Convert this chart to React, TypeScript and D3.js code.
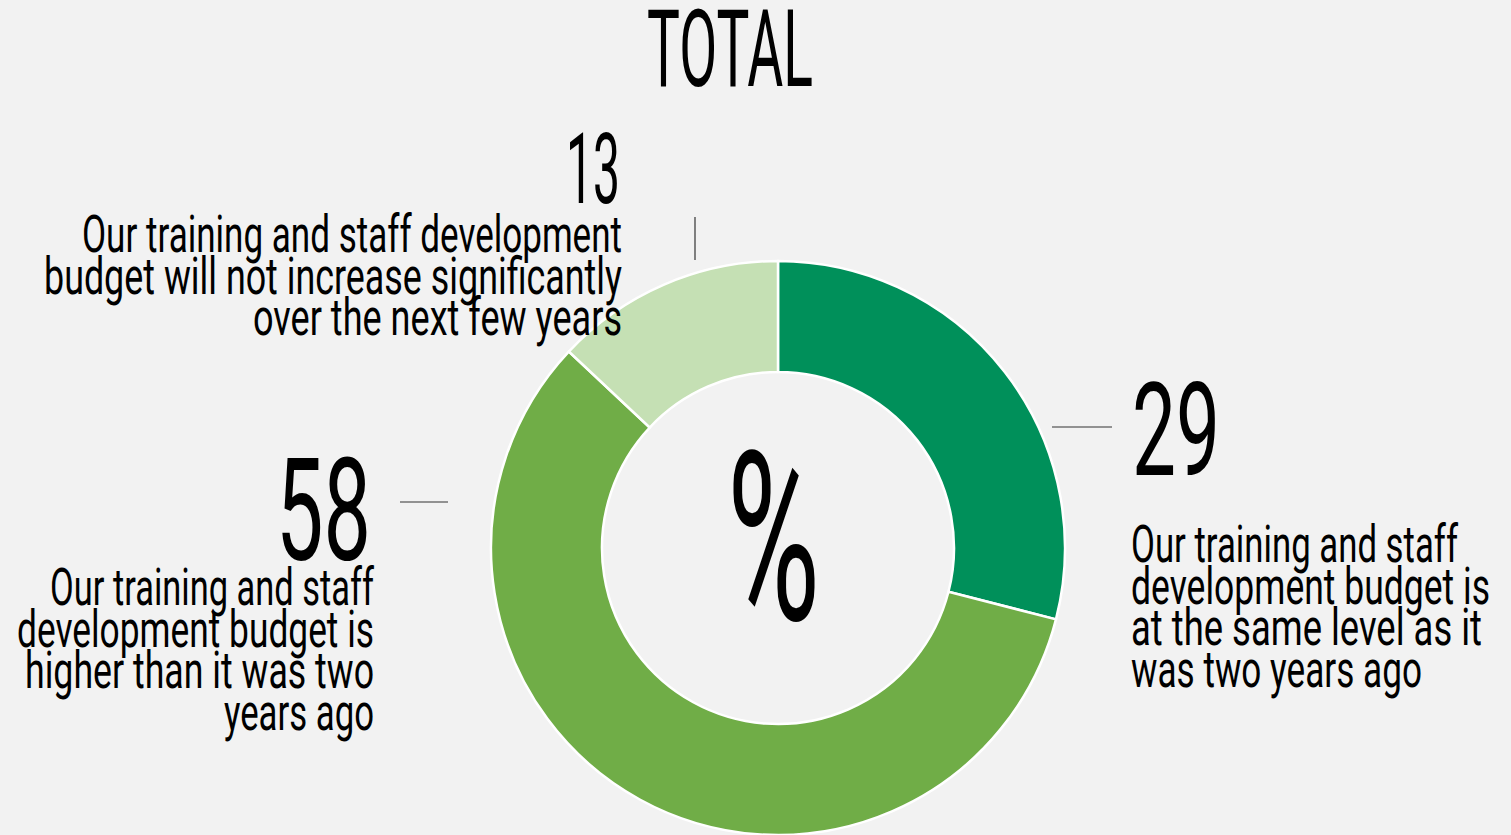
import React from "react";
import * as d3 from "d3";

const categories: string[] = [
  "Our training and staff development budget is at the same level as it was two years ago",
  "Our training and staff development budget is higher than it was two years ago",
  "Our training and staff development budget will not increase significantly over the next few years",
];
const values: number[] = [29, 58, 13];
const labelLines: string[][] = [
  ["Our training and staff", "development budget is", "at the same level as it", "was two years ago"],
  ["Our training and staff", "development budget is", "higher than it was two", "years ago"],
  ["Our training and staff development", "budget will not increase significantly", "over the next few years"],
];
const colors: string[] = ["#00905A", "#70AD47", "#C5E0B4"];
const title = "TOTAL";
const centerText = "%";

// layout (positions / sizes) kept separate from the data
const W = 1511;
const H = 835;
const CX = 778;
const CY = 548;
const R_OUT = 287;
const R_IN = 176;

type Layout = {
  numX: number; numBase: number; numSize: number; numW: number;
  anchor: "start" | "end";
  lblX: number; lblBase0: number; lblStep: number; lblW: number[];
  leader: [number, number, number, number];
};
const layout: Layout[] = [
  { numX: 1132, numBase: 475, numSize: 129, numW: 88, anchor: "start",
    lblX: 1131, lblBase0: 562, lblStep: 41.7, lblW: [327, 359, 351, 291],
    leader: [1052, 427, 1112, 427] },
  { numX: 371, numBase: 560, numSize: 143, numW: 95, anchor: "end",
    lblX: 374, lblBase0: 605, lblStep: 41.7, lblW: [324, 357, 349, 150],
    leader: [400, 502, 448, 502] },
  { numX: 620, numBase: 203, numSize: 98, numW: 54, anchor: "end",
    lblX: 622, lblBase0: 252, lblStep: 41.5, lblW: [540, 578, 369],
    leader: [695, 217, 695, 260] },
];

const FONT = "Roboto, 'Noto Sans', sans-serif";

export default function App() {
  const pie = d3.pie<number>().sort(null).value((d) => d);
  const arcs = pie(values);
  const arc = d3.arc<d3.PieArcDatum<number>>().innerRadius(R_IN).outerRadius(R_OUT);

  return (
    <svg
      width={W}
      height={H}
      style={{ position: "absolute", left: 0, top: 0, display: "block" }}
    >
      <rect x={0} y={0} width={W} height={H} fill="#F2F2F2" />
      <text
        x={647}
        y={86}
        fontFamily={FONT}
        fontSize={108}
        fontWeight={400}
        textLength={166}
        lengthAdjust="spacingAndGlyphs"
        fill="#000"
      >
        {title}
      </text>
      <g transform={`translate(${CX},${CY})`}>
        {arcs.map((a, i) => (
          <path key={i} d={arc(a) || ""} fill={colors[i]} stroke="#fff" strokeWidth={2.5}>
            <title>{categories[i]}</title>
          </path>
        ))}
      </g>
      <text
        x={727}
        y={620}
        fontFamily={FONT}
        fontSize={236}
        fontWeight={400}
        textLength={93}
        lengthAdjust="spacingAndGlyphs"
        fill="#000"
      >
        {centerText}
      </text>
      {layout.map((L, i) => (
        <g key={i}>
          <line
            x1={L.leader[0]}
            y1={L.leader[1]}
            x2={L.leader[2]}
            y2={L.leader[3]}
            stroke="#333"
            strokeWidth={1.2}
          />
          <text
            x={L.numX}
            y={L.numBase}
            fontFamily={FONT}
            fontSize={L.numSize}
            fontWeight={400}
            textAnchor={L.anchor}
            textLength={L.numW}
            lengthAdjust="spacingAndGlyphs"
            fill="#000"
          >
            {String(values[i])}
          </text>
          {labelLines[i].map((ln, j) => (
            <text
              key={j}
              x={L.lblX}
              y={L.lblBase0 + j * L.lblStep}
              fontFamily={FONT}
              fontSize={52}
              fontWeight={400}
              textAnchor={L.anchor}
              textLength={L.lblW[j]}
              lengthAdjust="spacingAndGlyphs"
              fill="#000"
            >
              {ln}
            </text>
          ))}
        </g>
      ))}
    </svg>
  );
}
